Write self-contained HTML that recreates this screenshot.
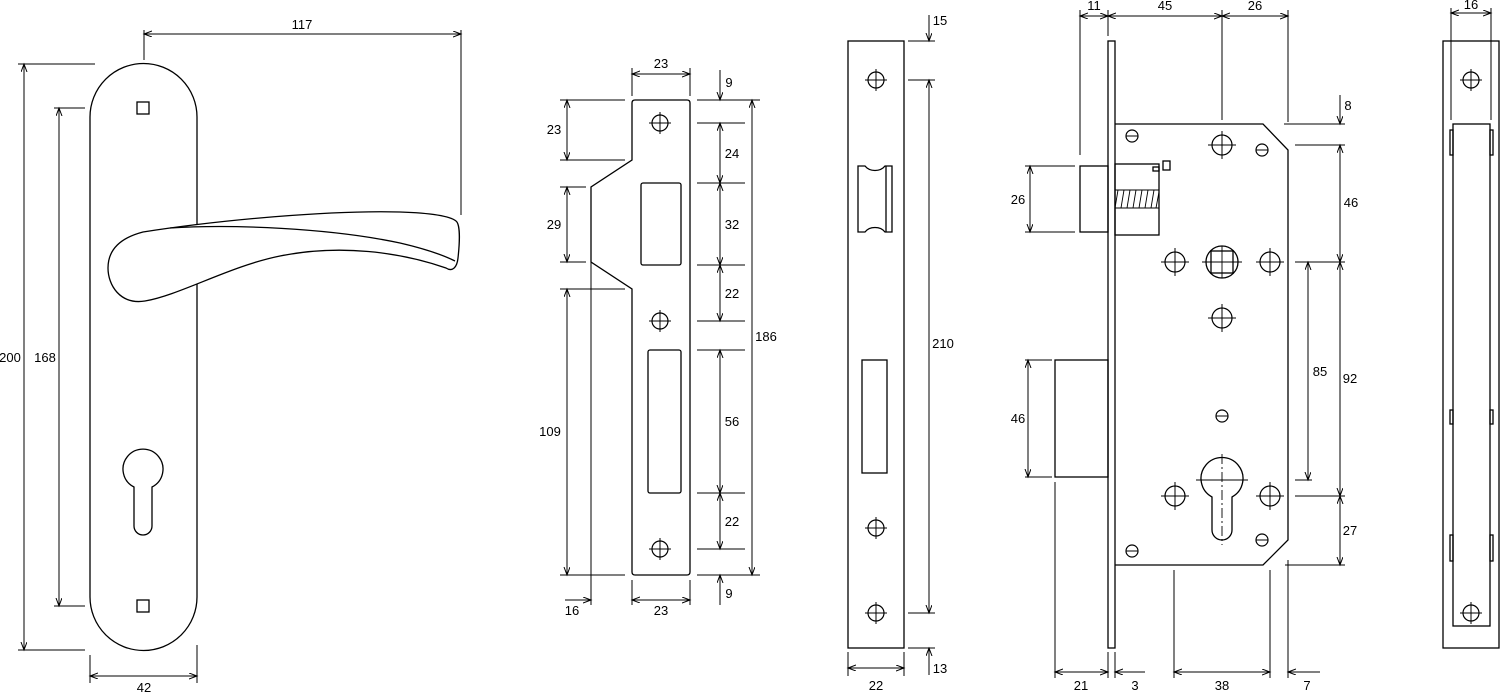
<!DOCTYPE html>
<html><head><meta charset="utf-8"><style>
html,body{margin:0;padding:0;background:#fff}
svg{display:block}
text{font-family:"Liberation Sans Narrow","Liberation Sans",sans-serif;font-size:13px;fill:#000;text-anchor:middle}
</style></head><body>
<svg width="1500" height="692" viewBox="0 0 1500 692" xmlns="http://www.w3.org/2000/svg">
<defs>
<marker id="a" markerUnits="userSpaceOnUse" markerWidth="10" markerHeight="8" refX="8" refY="3" orient="auto-start-reverse"><path d="M0,0 L8,3 L0,6" fill="none" stroke="#000" stroke-width="1"/></marker>
<g id="h"><circle r="10" fill="none" stroke="#000" stroke-width="1.2"/><path d="M-14,0H14M0,-14V14" stroke="#000" stroke-width="1"/></g>
<g id="hs"><circle r="8" fill="none" stroke="#000" stroke-width="1.2"/><path d="M-11,0H11M0,-11V11" stroke="#000" stroke-width="1"/></g>
<g id="s"><circle r="6" fill="none" stroke="#000" stroke-width="1.2"/><path d="M-6,0H6" stroke="#000" stroke-width="1"/></g>
</defs>
<g fill="none" stroke="#000" stroke-width="1.3">
<path d="M90,117 A53.5,53.5 0 0 1 197,117 V597 A53.5,53.5 0 0 1 90,597 Z" fill="#fff"/>
<rect x="137" y="102" width="12" height="12"/>
<rect x="137" y="600" width="12" height="12"/>
<path d="M134,487 A20,20 0 1 1 152,487 V526 A9,9 0 0 1 134,526 Z"/>
<path d="M143,232 C220,220 330,210 400,212 C430,213 450,216 456,221 C460,224 460,240 458,258 C457,268 452,272 446,268 C400,252 340,244 280,256 C230,266 180,295 145,301 C120,305 108,285 108,268 C108,250 120,238 143,232 Z" fill="#fff"/>
<path d="M170,228 C230,224 330,228 400,243 C430,250 445,256 455,261"/>
</g>
<g stroke="#000" stroke-width="1" fill="none">
<line x1="144" y1="34" x2="461" y2="34" marker-start="url(#a)" marker-end="url(#a)"/>
<line x1="144" y1="30" x2="144" y2="60"/><line x1="461" y1="30" x2="461" y2="215"/>
<line x1="24" y1="64" x2="24" y2="650" marker-start="url(#a)" marker-end="url(#a)"/>
<line x1="18" y1="64" x2="95" y2="64"/><line x1="18" y1="650" x2="85" y2="650"/>
<line x1="59" y1="108" x2="59" y2="606" marker-start="url(#a)" marker-end="url(#a)"/>
<line x1="54" y1="108" x2="85" y2="108"/><line x1="54" y1="606" x2="85" y2="606"/>
<line x1="90" y1="676" x2="197" y2="676" marker-start="url(#a)" marker-end="url(#a)"/>
<line x1="90" y1="655" x2="90" y2="683"/><line x1="197" y1="645" x2="197" y2="683"/>
</g>
<text x="302" y="29">117</text><text x="10" y="362">200</text><text x="45" y="362">168</text><text x="144" y="692">42</text>

<g fill="none" stroke="#000" stroke-width="1.3">
<path d="M635,100 H687 Q690,100 690,103 V572 Q690,575 687,575 H635 Q632,575 632,572 V289 L591,262 V187 L632,160 V103 Q632,100 635,100 Z"/>
<rect x="641" y="183" width="40" height="82" rx="2"/>
<rect x="648" y="350" width="33" height="143" rx="2"/>
</g>
<use href="#hs" x="660" y="123"/><use href="#hs" x="660" y="321"/><use href="#hs" x="660" y="549"/>
<g stroke="#000" stroke-width="1" fill="none">
<line x1="591" y1="262" x2="591" y2="605"/>
<line x1="632" y1="68" x2="632" y2="96"/><line x1="690" y1="68" x2="690" y2="96"/>
<line x1="632" y1="74" x2="690" y2="74" marker-start="url(#a)" marker-end="url(#a)"/>
<line x1="697" y1="100" x2="760" y2="100"/><line x1="697" y1="123" x2="745" y2="123"/><line x1="697" y1="183" x2="745" y2="183"/><line x1="697" y1="265" x2="745" y2="265"/><line x1="697" y1="321" x2="745" y2="321"/><line x1="697" y1="350" x2="745" y2="350"/><line x1="697" y1="493" x2="745" y2="493"/><line x1="697" y1="549" x2="745" y2="549"/><line x1="697" y1="575" x2="760" y2="575"/>
<line x1="720" y1="70" x2="720" y2="100" marker-end="url(#a)"/>
<line x1="720" y1="123" x2="720" y2="183" marker-start="url(#a)" marker-end="url(#a)"/>
<line x1="720" y1="183" x2="720" y2="265" marker-start="url(#a)" marker-end="url(#a)"/>
<line x1="720" y1="265" x2="720" y2="321" marker-start="url(#a)" marker-end="url(#a)"/>
<line x1="720" y1="350" x2="720" y2="493" marker-start="url(#a)" marker-end="url(#a)"/>
<line x1="720" y1="493" x2="720" y2="549" marker-start="url(#a)" marker-end="url(#a)"/>
<line x1="720" y1="605" x2="720" y2="575" marker-end="url(#a)"/>
<line x1="752" y1="100" x2="752" y2="575" marker-start="url(#a)" marker-end="url(#a)"/>
<line x1="560" y1="100" x2="625" y2="100"/><line x1="560" y1="160" x2="625" y2="160"/><line x1="560" y1="187" x2="586" y2="187"/><line x1="560" y1="262" x2="586" y2="262"/><line x1="560" y1="289" x2="625" y2="289"/><line x1="560" y1="575" x2="625" y2="575"/>
<line x1="567" y1="100" x2="567" y2="160" marker-start="url(#a)" marker-end="url(#a)"/>
<line x1="567" y1="187" x2="567" y2="262" marker-start="url(#a)" marker-end="url(#a)"/>
<line x1="567" y1="289" x2="567" y2="575" marker-start="url(#a)" marker-end="url(#a)"/>
<line x1="632" y1="580" x2="632" y2="605"/><line x1="690" y1="580" x2="690" y2="605"/>
<line x1="565" y1="600" x2="591" y2="600" marker-end="url(#a)"/>
<line x1="632" y1="600" x2="690" y2="600" marker-start="url(#a)" marker-end="url(#a)"/>
</g>
<text x="661" y="68">23</text><text x="729" y="87">9</text><text x="732" y="158">24</text><text x="732" y="229">32</text><text x="732" y="298">22</text><text x="732" y="426">56</text><text x="732" y="526">22</text><text x="729" y="598">9</text><text x="766" y="341">186</text>
<text x="554" y="134">23</text><text x="554" y="229">29</text><text x="550" y="436">109</text><text x="572" y="615">16</text><text x="661" y="615">23</text>

<g fill="none" stroke="#000" stroke-width="1.3">
<rect x="848" y="41" width="56" height="607"/>
<path d="M858,166 H865 A12,10 0 0 0 885,166 H892 V232 H885 A12,10 0 0 0 865,232 H858 Z"/>
<line x1="886" y1="166" x2="886" y2="232"/>
<rect x="862" y="360" width="25" height="113"/>
</g>
<use href="#hs" x="876" y="80"/><use href="#hs" x="876" y="528"/><use href="#hs" x="876" y="613"/>
<g stroke="#000" stroke-width="1" fill="none">
<line x1="908" y1="41" x2="935" y2="41"/><line x1="908" y1="80" x2="935" y2="80"/><line x1="908" y1="613" x2="935" y2="613"/><line x1="908" y1="648" x2="935" y2="648"/>
<line x1="929" y1="15" x2="929" y2="41" marker-end="url(#a)"/>
<line x1="929" y1="80" x2="929" y2="613" marker-start="url(#a)" marker-end="url(#a)"/>
<line x1="929" y1="675" x2="929" y2="648" marker-end="url(#a)"/>
<line x1="848" y1="652" x2="848" y2="676"/><line x1="904" y1="652" x2="904" y2="676"/>
<line x1="848" y1="668" x2="904" y2="668" marker-start="url(#a)" marker-end="url(#a)"/>
</g>
<text x="940" y="25">15</text><text x="943" y="348">210</text><text x="940" y="673">13</text><text x="876" y="690">22</text>

<g fill="none" stroke="#000" stroke-width="1.3">
<rect x="1108" y="41" width="7" height="607"/>
<path d="M1115,124 H1263 L1288,150 V540 L1263,565 H1115"/>
<rect x="1080" y="166" width="28" height="66"/>
<rect x="1115" y="164" width="44" height="71"/>
<rect x="1055" y="360" width="53" height="117"/>
<rect x="1153" y="167" width="6" height="4"/><rect x="1163" y="161" width="7" height="9"/>
<rect x="1211" y="251" width="22" height="22"/>
<circle cx="1222" cy="262" r="16"/>
<path d="M1212,497 A21,21 0 1 1 1232,497 V530 A10,10 0 0 1 1212,530 Z"/>
</g>
<g stroke="#000" stroke-width="0.9" fill="none">
<path d="M1115,190H1159M1115,208H1159M1118,190l-3,18M1124,190l-3,18M1130,190l-3,18M1136,190l-3,18M1142,190l-3,18M1148,190l-3,18M1154,190l-3,18M1159,192l-3,16"/>
<path d="M1202,262H1242M1222,246V278M1196,480H1248"/>
<path d="M1222,454V545" stroke-dasharray="10,3,2,3"/>
</g>
<use href="#h" x="1222" y="145"/><use href="#h" x="1175" y="262"/><use href="#h" x="1270" y="262"/><use href="#h" x="1222" y="318"/><use href="#h" x="1175" y="496"/><use href="#h" x="1270" y="496"/>
<use href="#s" x="1132" y="136"/><use href="#s" x="1262" y="150"/><use href="#s" x="1222" y="416"/><use href="#s" x="1262" y="540"/><use href="#s" x="1132" y="551"/>
<g stroke="#000" stroke-width="1" fill="none">
<line x1="1080" y1="10" x2="1080" y2="155"/><line x1="1108" y1="10" x2="1108" y2="36"/><line x1="1222" y1="10" x2="1222" y2="120"/><line x1="1288" y1="10" x2="1288" y2="122"/>
<line x1="1080" y1="16" x2="1108" y2="16" marker-start="url(#a)" marker-end="url(#a)"/>
<line x1="1108" y1="16" x2="1222" y2="16" marker-start="url(#a)" marker-end="url(#a)"/>
<line x1="1222" y1="16" x2="1288" y2="16" marker-start="url(#a)" marker-end="url(#a)"/>
<line x1="1284" y1="124" x2="1345" y2="124"/><line x1="1295" y1="145" x2="1345" y2="145"/><line x1="1295" y1="262" x2="1345" y2="262"/><line x1="1295" y1="496" x2="1345" y2="496"/><line x1="1285" y1="565" x2="1345" y2="565"/><line x1="1295" y1="480" x2="1312" y2="480"/>
<line x1="1340" y1="95" x2="1340" y2="124" marker-end="url(#a)"/>
<line x1="1340" y1="145" x2="1340" y2="262" marker-start="url(#a)" marker-end="url(#a)"/>
<line x1="1340" y1="262" x2="1340" y2="496" marker-start="url(#a)" marker-end="url(#a)"/>
<line x1="1340" y1="496" x2="1340" y2="565" marker-start="url(#a)" marker-end="url(#a)"/>
<line x1="1308" y1="262" x2="1308" y2="480" marker-start="url(#a)" marker-end="url(#a)"/>
<line x1="1025" y1="166" x2="1075" y2="166"/><line x1="1025" y1="232" x2="1075" y2="232"/>
<line x1="1030" y1="166" x2="1030" y2="232" marker-start="url(#a)" marker-end="url(#a)"/>
<line x1="1025" y1="360" x2="1052" y2="360"/><line x1="1025" y1="477" x2="1052" y2="477"/>
<line x1="1028" y1="360" x2="1028" y2="477" marker-start="url(#a)" marker-end="url(#a)"/>
<line x1="1055" y1="482" x2="1055" y2="678"/><line x1="1108" y1="652" x2="1108" y2="678"/><line x1="1115" y1="652" x2="1115" y2="678"/><line x1="1174" y1="570" x2="1174" y2="678"/><line x1="1270" y1="570" x2="1270" y2="678"/><line x1="1288" y1="560" x2="1288" y2="678"/>
<line x1="1055" y1="672" x2="1108" y2="672" marker-start="url(#a)" marker-end="url(#a)"/>
<line x1="1145" y1="672" x2="1115" y2="672" marker-end="url(#a)"/>
<line x1="1174" y1="672" x2="1270" y2="672" marker-start="url(#a)" marker-end="url(#a)"/>
<line x1="1320" y1="672" x2="1288" y2="672" marker-end="url(#a)"/>
</g>
<text x="1094" y="10">11</text><text x="1165" y="10">45</text><text x="1255" y="10">26</text>
<text x="1348" y="110">8</text><text x="1351" y="207">46</text><text x="1350" y="383">92</text><text x="1320" y="376">85</text><text x="1350" y="535">27</text>
<text x="1018" y="204">26</text><text x="1018" y="423">46</text>
<text x="1081" y="690">21</text><text x="1135" y="690">3</text><text x="1222" y="690">38</text><text x="1307" y="690">7</text>

<g fill="none" stroke="#000" stroke-width="1.3">
<rect x="1443" y="41" width="56" height="607"/>
<rect x="1453" y="124" width="37" height="502"/>
<rect x="1450" y="130" width="3" height="25"/><rect x="1490" y="130" width="3" height="25"/>
<rect x="1450" y="410" width="3" height="14"/><rect x="1490" y="410" width="3" height="14"/>
<rect x="1450" y="535" width="3" height="26"/><rect x="1490" y="535" width="3" height="26"/>
</g>
<use href="#hs" x="1471" y="80"/><use href="#hs" x="1471" y="613"/>
<g stroke="#000" stroke-width="1">
<line x1="1451" y1="8" x2="1451" y2="120"/><line x1="1491" y1="8" x2="1491" y2="120"/>
<line x1="1451" y1="13" x2="1491" y2="13" marker-start="url(#a)" marker-end="url(#a)"/></g>
<text x="1471" y="9">16</text>
</svg>
</body></html>
